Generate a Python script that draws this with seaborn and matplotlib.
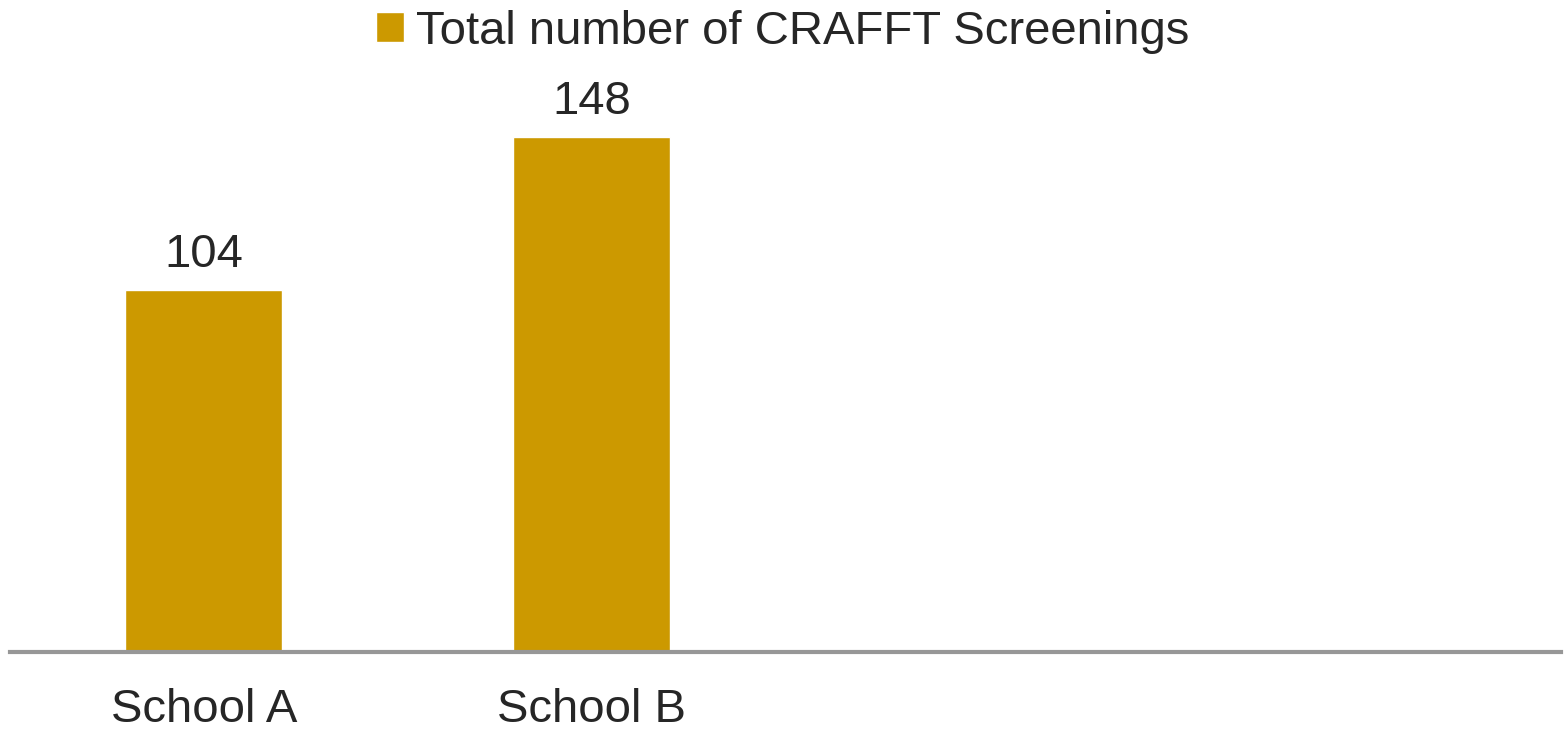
import matplotlib
matplotlib.use("Agg")
import matplotlib.pyplot as plt
import pandas as pd
import seaborn as sns

# Data
schools = ["School A", "School B"]
screenings = [104, 148]
series_name = "Total number of CRAFFT Screenings"

BAR_COLOR = "#CC9900"
TEXT_COLOR = "#262626"
AXIS_COLOR = "#979797"

sns.set_theme(style="white")
plt.rcParams["font.family"] = ["Liberation Sans", "DejaVu Sans"]

df = pd.DataFrame({"school": schools, "count": screenings, "series": series_name})

fig = plt.figure(figsize=(15.65, 7.34), dpi=100)
ax = fig.add_axes([10 / 1565, 1 - 652 / 734, 1551 / 1565, 592 / 734])

sns.barplot(data=df, x="school", y="count", hue="series",
            palette=[BAR_COLOR], width=0.405, saturation=1,
            legend=True, ax=ax)

# Four category slots along the axis; only the first two hold data
ax.set_xlim(-0.5, 3.5)
ax.set_ylim(0, 170)

for container in ax.containers:
    ax.bar_label(container, labels=[str(v) for v in screenings],
                 padding=9, fontsize=34, color=TEXT_COLOR)

ax.set_xlabel("")
ax.set_ylabel("")
ax.set_yticks([])
ax.tick_params(axis="x", length=0, pad=26, labelsize=34, labelcolor=TEXT_COLOR)

for side in ["top", "right", "left"]:
    ax.spines[side].set_visible(False)
ax.spines["bottom"].set_color(AXIS_COLOR)
ax.spines["bottom"].set_linewidth(3)

ax.legend(loc="upper center", bbox_to_anchor=(0.5, 1.012),
          bbox_transform=fig.transFigure, frameon=False,
          fontsize=34, handlelength=0.6, handleheight=0.6,
          handletextpad=0.25, labelcolor=TEXT_COLOR, borderaxespad=0)

fig.savefig("out.png", dpi=100)
